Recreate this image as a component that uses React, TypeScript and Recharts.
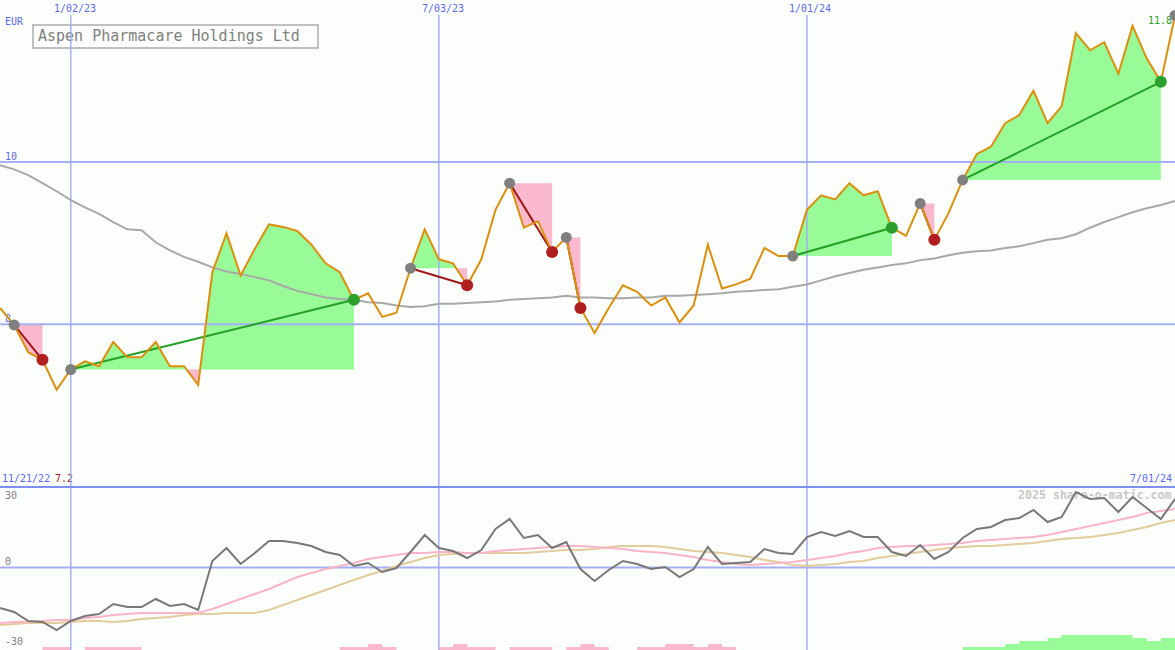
import React from 'react';
import { ComposedChart, Line, Area, XAxis, YAxis, ReferenceLine } from 'recharts';

// weekly closes in EUR, week 0 = 11/28/22 ... week 83 = 7/01/24
const PRICE = [
  8.20, 7.99, 7.65, 7.56, 7.19, 7.44, 7.54, 7.48, 7.78, 7.59,
  7.59, 7.78, 7.48, 7.48, 7.25, 8.64, 9.12, 8.60, 8.93, 9.23,
  9.20, 9.15, 8.98, 8.75, 8.64, 8.30, 8.38, 8.09, 8.14, 8.69,
  9.17, 8.80, 8.75, 8.48, 8.80, 9.41, 9.74, 9.19, 9.27, 8.89,
  9.07, 8.20, 7.89, 8.20, 8.48, 8.40, 8.23, 8.33, 8.02, 8.23,
  8.98, 8.44, 8.49, 8.56, 8.94, 8.84, 8.84, 9.41, 9.59, 9.54,
  9.74, 9.59, 9.64, 9.19, 9.09, 9.49, 9.04, 9.37, 9.78, 10.10,
  10.19, 10.48, 10.58, 10.88, 10.48, 10.69, 11.59, 11.38, 11.48, 11.09,
  11.68, 11.28, 10.99, 11.81,
];

// slow moving average drawn in grey
const MA = [
  9.96, 9.91, 9.84, 9.74, 9.64, 9.53, 9.44, 9.36, 9.26, 9.17,
  9.16, 9.01, 8.91, 8.83, 8.77, 8.70, 8.65, 8.62, 8.58, 8.54,
  8.47, 8.41, 8.37, 8.33, 8.31, 8.30, 8.27, 8.26, 8.23, 8.21,
  8.22, 8.25, 8.25, 8.26, 8.27, 8.28, 8.30, 8.31, 8.32, 8.33,
  8.35, 8.33, 8.33, 8.32, 8.32, 8.33, 8.33, 8.35, 8.35, 8.36,
  8.37, 8.38, 8.40, 8.41, 8.42, 8.43, 8.46, 8.49, 8.54, 8.59,
  8.63, 8.67, 8.70, 8.73, 8.75, 8.79, 8.81, 8.85, 8.88, 8.90,
  8.91, 8.94, 8.96, 9.00, 9.04, 9.06, 9.11, 9.19, 9.26, 9.32,
  9.38, 9.43, 9.47, 9.52,
];

// lower panel oscillator and its two averages
const OSC = [
  -16.2, -17.8, -21.4, -21.8, -25.0, -21.4, -19.4, -18.6, -14.6, -15.8,
  -15.8, -12.6, -15.4, -14.6, -17.0, 2.6, 7.8, 1.4, 5.8, 10.6,
  10.6, 9.8, 8.6, 6.2, 5.0, 0.6, 1.8, -1.8, -0.2, 6.2,
  13.0, 7.8, 6.6, 3.8, 7.0, 15.4, 19.4, 11.8, 13.0, 7.8,
  10.2, -0.6, -5.4, -1.0, 2.6, 1.4, -0.6, 0.2, -3.8, -0.6,
  8.2, 1.4, 1.8, 2.2, 7.4, 5.8, 5.4, 12.2, 14.2, 12.6,
  14.6, 12.2, 12.2, 6.2, 4.6, 9.0, 3.4, 6.2, 11.8, 15.4,
  16.2, 19.0, 19.8, 23.0, 18.2, 20.2, 30.2, 27.4, 27.8, 22.2,
  28.2, 23.8, 19.4, 27.4,
];

const OSC_PINK = [
  -22.2, -21.8, -21.8, -21.4, -21.0, -21.0, -20.2, -19.8, -19.0, -18.6,
  -18.2, -18.2, -18.2, -18.2, -18.2, -16.6, -14.6, -12.6, -10.6, -8.6,
  -6.2, -3.8, -2.2, -0.6, 0.6, 1.8, 3.4, 4.2, 5.0, 5.8,
  5.8, 6.2, 6.2, 5.8, 5.8, 6.6, 7.0, 7.4, 7.8, 8.2,
  8.6, 8.6, 8.2, 7.8, 7.4, 6.6, 6.2, 5.8, 5.0, 4.2,
  3.0, 2.2, 1.4, 1.0, 1.4, 1.8, 2.2, 3.0, 3.8, 4.6,
  5.8, 6.6, 7.8, 8.2, 8.6, 8.6, 9.0, 9.4, 9.8, 10.6,
  11.0, 11.4, 11.8, 12.2, 13.0, 14.2, 15.4, 16.6, 17.8, 19.0,
  20.2, 21.8, 22.6, 23.4,
];

const OSC_TAN = [
  -23.0, -22.6, -22.2, -22.2, -22.2, -21.8, -21.4, -21.4, -21.8, -21.4,
  -20.6, -20.2, -19.8, -19.0, -18.6, -18.6, -18.2, -18.2, -18.2, -17.0,
  -15.0, -13.0, -11.0, -9.0, -7.0, -5.0, -3.0, -1.4, 0.6, 2.2,
  3.8, 5.0, 5.4, 5.8, 5.8, 5.8, 5.8, 5.8, 6.2, 6.6,
  7.0, 7.0, 7.4, 8.2, 8.6, 8.6, 8.6, 8.2, 7.4, 6.6,
  6.2, 5.8, 5.0, 4.2, 3.0, 2.2, 1.0, 0.6, 1.0, 1.4,
  2.2, 2.6, 3.8, 4.6, 5.4, 6.2, 7.0, 7.8, 8.2, 8.6,
  8.6, 9.0, 9.4, 9.8, 10.6, 11.4, 11.8, 12.2, 13.0, 13.8,
  15.0, 16.2, 17.8, 19.0,
];

// step strips along the bottom edge
const HOLD_LOSS = [
  0, 0, 0, 1, 1, 0, 1, 1, 1, 1,
  0, 0, 0, 0, 0, 0, 0, 0, 0, 0,
  0, 0, 0, 0, 1, 1, 2, 1, 0, 0,
  0, 1, 2, 1, 1, 0, 1, 1, 1, 0,
  1, 2, 1, 0, 0, 1, 1, 2, 2, 1,
  2, 1, 0, 0, 0, 0, 0, 0, 0, 0,
  0, 0, 0, 0, 0, 0, 0, 0, 0, 0,
  0, 0, 0, 0, 0, 0, 0, 0, 0, 0,
  0, 0, 0, 0,
];

const HOLD_GAIN = [
  0, 0, 0, 0, 0, 0, 0, 0, 0, 0,
  0, 0, 0, 0, 0, 0, 0, 0, 0, 0,
  0, 0, 0, 0, 0, 0, 0, 0, 0, 0,
  0, 0, 0, 0, 0, 0, 0, 0, 0, 0,
  0, 0, 0, 0, 0, 0, 0, 0, 0, 0,
  0, 0, 0, 0, 0, 0, 0, 0, 0, 0,
  0, 0, 0, 0, 0, 0, 0, 0, 1, 1,
  1, 2, 3, 3, 4, 5, 5, 5, 5, 5,
  4, 3, 4, 4,
];

// trades as week indexes
const TRADE_ENTRY = [1, 5, 29, 36, 40, 56, 65, 68];
const TRADE_EXIT = [3, 25, 33, 39, 41, 63, 66, 82];
const OPEN_ENTRY = 83;

const GRID_WEEKS = [5, 31, 57];
const GRID_LABELS = ['1/02/23', '7/03/23', '1/01/24'];
const PRICE_LINES = [10, 8];

const W = 1175;
const LAST = PRICE.length - 1;
const GRID = '#a4b0f2';
const BLUE_TXT = '#5a69ee';
const MONO = '"DejaVu Sans Mono", monospace';
const GREEN_FILL = '#98fb98';
const PINK_FILL = '#f9b8cb';

type Row = { x: number; [key: string]: any };

function buildTop(): Row[] {
  const rows: Row[] = PRICE.map((p, i) => ({ x: i, price: p, ma: MA[i] }));
  const extra: Row[] = [];
  TRADE_ENTRY.forEach((a, k) => {
    const b = TRADE_EXIT[k];
    const e = PRICE[a];
    for (let i = a; i <= b; i++) {
      const p = PRICE[i];
      rows[i]['up' + k] = [e, Math.max(p, e)];
      rows[i]['dn' + k] = [Math.min(p, e), e];
      if (i < b) {
        const q = PRICE[i + 1];
        // add the point where the price crosses the entry level
        if ((p - e) * (q - e) < 0) {
          extra.push({ x: i + (e - p) / (q - p), price: e, ['up' + k]: [e, e], ['dn' + k]: [e, e] });
        }
      }
    }
    rows[a]['tr' + k] = e;
    rows[b]['tr' + k] = PRICE[b];
    rows[a].entry = e;
    rows[b][PRICE[b] >= e ? 'win' : 'loss'] = PRICE[b];
  });
  rows[OPEN_ENTRY].entry = PRICE[OPEN_ENTRY];
  return [...rows, ...extra].sort((m, n) => m.x - n.x);
}

const topData = buildTop();
const botData = OSC.map((v, i) => ({
  x: i, osc: v, pink: OSC_PINK[i], tan: OSC_TAN[i], loss: HOLD_LOSS[i], gain: HOLD_GAIN[i],
}));

const Txt = ({ left, top, color, size = 10, bold = false, children }: any) => (
  <div
    style={{
      position: 'absolute', left, top, color, fontSize: size, lineHeight: `${size}px`,
      fontFamily: MONO, fontWeight: bold ? 'bold' : 'normal', whiteSpace: 'pre',
    }}
  >
    {children}
  </div>
);

const App: React.FC = () => {
  return (
    <div style={{ position: 'absolute', left: 0, top: 0, width: W, height: 650, overflow: 'hidden', background: '#fcfefc' }}>
      {/* labels */}
      <Txt left={5} top={17} color={BLUE_TXT}>EUR</Txt>
      <Txt left={54} top={4} color={BLUE_TXT}>{GRID_LABELS[0]}</Txt>
      <Txt left={422} top={4} color={BLUE_TXT}>{GRID_LABELS[1]}</Txt>
      <Txt left={789} top={4} color={BLUE_TXT}>{GRID_LABELS[2]}</Txt>
      <Txt left={5} top={152} color={BLUE_TXT}>10</Txt>
      <Txt left={5} top={314} color={BLUE_TXT}>8</Txt>
      <Txt left={1148} top={16} color="#2ca02c">11.8</Txt>
      <Txt left={2} top={474} color={BLUE_TXT}>11/21/22</Txt>
      <Txt left={55} top={474} color="#a01818">7.2</Txt>
      <Txt left={1130} top={474} color={BLUE_TXT}>7/01/24</Txt>
      <Txt left={5} top={491} color="#808080">30</Txt>
      <Txt left={5} top={557} color="#808080">0</Txt>
      <Txt left={5} top={637} color="#808080">-30</Txt>
      <Txt left={1018} top={490} color="#c8c8c8" size={11.6} bold>2025 share-o-matic.com</Txt>
      <div
        style={{
          position: 'absolute', left: 32, top: 24, width: 287, height: 25,
          boxSizing: 'border-box', border: '2px solid #c0c0c0',
        }}
      />
      <Txt left={38} top={29} color="#808080" size={15}>Aspen Pharmacare Holdings Ltd</Txt>

      {/* price panel */}
      <div style={{ position: 'absolute', left: 0, top: 0 }}>
        <ComposedChart width={W} height={487} data={topData} margin={{ top: 15, right: 0, bottom: 0, left: 0 }}>
          <XAxis type="number" dataKey="x" domain={[0, LAST]} hide />
          <YAxis domain={[5.99, 11.815]} hide />
          {GRID_WEEKS.map(w => (
            <ReferenceLine key={'g' + w} x={w} stroke={GRID} strokeWidth={1.5} />
          ))}
          {PRICE_LINES.map(v => (
            <ReferenceLine key={'p' + v} y={v} stroke={GRID} strokeWidth={2} />
          ))}
          {TRADE_ENTRY.map((_, k) => (
            <Area key={'u' + k} dataKey={'up' + k} type="linear" stroke="none" fill={GREEN_FILL} fillOpacity={1} isAnimationActive={false} />
          ))}
          {TRADE_ENTRY.map((_, k) => (
            <Area key={'d' + k} dataKey={'dn' + k} type="linear" stroke="none" fill={PINK_FILL} fillOpacity={1} isAnimationActive={false} />
          ))}
          <Line dataKey="ma" type="linear" stroke="#a8a8a8" strokeWidth={2} dot={false} connectNulls isAnimationActive={false} />
          {TRADE_ENTRY.map((a, k) => (
            <Line
              key={'t' + k}
              dataKey={'tr' + k}
              type="linear"
              stroke={PRICE[TRADE_EXIT[k]] >= PRICE[a] ? '#22a022' : '#a01818'}
              strokeWidth={2}
              dot={false}
              connectNulls
              isAnimationActive={false}
            />
          ))}
          <Line dataKey="entry" stroke="none" dot={{ r: 5.5, fill: '#808080', stroke: 'none' }} isAnimationActive={false} />
          <Line dataKey="price" type="linear" stroke="#dc8f0c" strokeWidth={2} dot={false} isAnimationActive={false} />
          <Line dataKey="win" stroke="none" dot={{ r: 6, fill: '#2ca02c', stroke: 'none' }} isAnimationActive={false} />
          <Line dataKey="loss" stroke="none" dot={{ r: 6, fill: '#b01e1e', stroke: 'none' }} isAnimationActive={false} />
        </ComposedChart>
      </div>

      {/* oscillator panel */}
      <div style={{ position: 'absolute', left: 0, top: 486 }}>
        <ComposedChart width={W} height={164} data={botData} margin={{ top: 1, right: 0, bottom: 0, left: 0 }}>
          <XAxis type="number" dataKey="x" domain={[0, LAST]} hide />
          <YAxis yAxisId="osc" domain={[-33, 32.2]} hide />
          <YAxis yAxisId="steps" domain={[0, 54]} hide />
          <Area yAxisId="steps" dataKey="loss" type="stepAfter" stroke="none" fill={PINK_FILL} fillOpacity={1} isAnimationActive={false} />
          <Area yAxisId="steps" dataKey="gain" type="stepAfter" stroke="none" fill={GREEN_FILL} fillOpacity={1} isAnimationActive={false} />
          {GRID_WEEKS.map(w => (
            <ReferenceLine key={'b' + w} yAxisId="osc" x={w} stroke={GRID} strokeWidth={1.5} />
          ))}
          <ReferenceLine yAxisId="osc" y={0} stroke={GRID} strokeWidth={2} />
          <ReferenceLine yAxisId="osc" y={32.2} stroke="#7f8ff0" strokeWidth={2} />
          <Line yAxisId="osc" dataKey="tan" type="linear" stroke="#e2cc9c" strokeWidth={2} dot={false} isAnimationActive={false} />
          <Line yAxisId="osc" dataKey="pink" type="linear" stroke="#f8b4c8" strokeWidth={2} dot={false} isAnimationActive={false} />
          <Line yAxisId="osc" dataKey="osc" type="linear" stroke="#787878" strokeWidth={2} dot={false} isAnimationActive={false} />
        </ComposedChart>
      </div>
    </div>
  );
};

export default App;
